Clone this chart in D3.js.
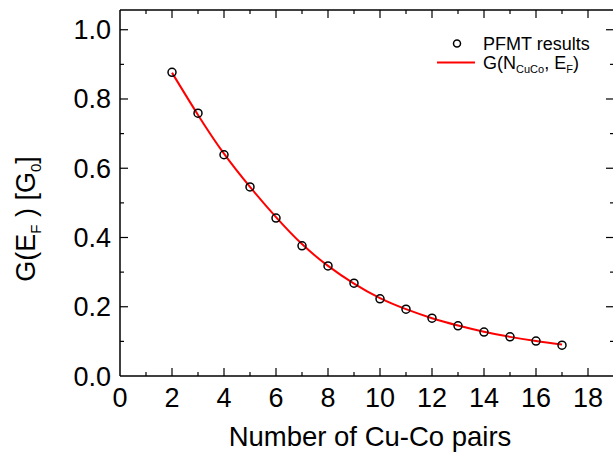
<!DOCTYPE html>
<html>
<head>
<meta charset="utf-8">
<script src="https://cdn.jsdelivr.net/npm/d3@7"></script>
<style>
  html, body { margin: 0; padding: 0; background: #fff; }
  svg { display: block; font-family: Arial, "Liberation Sans", sans-serif; }
</style>
</head>
<body>
<svg id="chart" width="613" height="458"></svg>
<script>
// ---- data ----
const pairs = [2, 3, 4, 5, 6, 7, 8, 9, 10, 11, 12, 13, 14, 15, 16, 17];
const pfmtResults = [0.877, 0.759, 0.639, 0.546, 0.456, 0.376, 0.318, 0.268, 0.223, 0.193, 0.167, 0.145, 0.127, 0.113, 0.101, 0.089];
const fitValues   = [0.876, 0.754, 0.642, 0.546, 0.459, 0.381, 0.318, 0.267, 0.225, 0.193, 0.167, 0.146, 0.128, 0.113, 0.101, 0.091];
const xTicks = [0, 2, 4, 6, 8, 10, 12, 14, 16, 18];
const xMinorTicks = [1, 3, 5, 7, 9, 11, 13, 15, 17];
const yTicks = [0.0, 0.2, 0.4, 0.6, 0.8, 1.0];
const yMinorTicks = [0.1, 0.3, 0.5, 0.7, 0.9];
const legendLabels = ["PFMT results", "G(N", "CuCo", ", E", "F", ")"];

const svg = d3.select("#chart");
const x = d3.scaleLinear().domain([0, 19]).range([120, 614]);
const y = d3.scaleLinear().domain([0, 1.057]).range([376, 10]);

const axisColor = "#000";
const g = svg.append("g");

// frame
const frame = g.append("g").attr("stroke", axisColor).attr("stroke-width", 1.5).attr("fill", "none");
frame.append("line").attr("x1", x(0)).attr("x2", x(19)).attr("y1", y(0)).attr("y2", y(0));
frame.append("line").attr("x1", x(0)).attr("x2", x(19)).attr("y1", y(1.057)).attr("y2", y(1.057));
frame.append("line").attr("x1", x(0)).attr("x2", x(0)).attr("y1", y(0)).attr("y2", y(1.057));
frame.append("line").attr("x1", x(19)).attr("x2", x(19)).attr("y1", y(0)).attr("y2", y(1.057));

// ticks (inside)
const MAJ = 8, MIN = 4;
function tickLines(vals, len, orient) {
  const t = g.append("g").attr("stroke", axisColor).attr("stroke-width", 1.2);
  vals.forEach(v => {
    if (orient === "bottom") t.append("line").attr("x1", x(v)).attr("x2", x(v)).attr("y1", y(0)).attr("y2", y(0) - len);
    if (orient === "top") t.append("line").attr("x1", x(v)).attr("x2", x(v)).attr("y1", y(1.057)).attr("y2", y(1.057) + len);
    if (orient === "left") t.append("line").attr("y1", y(v)).attr("y2", y(v)).attr("x1", x(0)).attr("x2", x(0) + len);
    if (orient === "right") t.append("line").attr("y1", y(v)).attr("y2", y(v)).attr("x1", x(19)).attr("x2", x(19) - len);
  });
}
tickLines(xTicks.filter(v => v > 0), MAJ, "bottom");
tickLines(xMinorTicks, MIN, "bottom");
tickLines(xTicks.filter(v => v > 0), MAJ, "top");
tickLines(xMinorTicks, MIN, "top");
tickLines(yTicks.filter(v => v > 0), MAJ, "left");
tickLines(yMinorTicks, MIN, "left");
tickLines(yTicks.filter(v => v > 0), MAJ, "right");
tickLines(yMinorTicks, MIN, "right");

// tick labels
g.append("g").selectAll("text").data(xTicks).join("text")
  .attr("x", d => x(d)).attr("y", 406.5)
  .attr("text-anchor", "middle").attr("font-size", 27).attr("fill", "#000")
  .text(d => d);
g.append("g").selectAll("text").data(yTicks).join("text")
  .attr("x", 111).attr("y", d => y(d) + 9.5)
  .attr("text-anchor", "end").attr("font-size", 27).attr("fill", "#000")
  .text(d => d.toFixed(1));

// axis titles
svg.append("text").attr("x", 370).attr("y", 446).attr("text-anchor", "middle")
  .attr("font-size", 27.5).attr("fill", "#000").text("Number of Cu-Co pairs");

const yl = svg.append("text").attr("transform", "translate(35,219) rotate(-90)")
  .attr("text-anchor", "middle").attr("font-size", 27).attr("fill", "#000");
yl.append("tspan").text("G(E");
yl.append("tspan").attr("font-size", 15).attr("dy", 6).text("F");
yl.append("tspan").attr("dy", -6).text(" ) [G");
yl.append("tspan").attr("font-size", 15).attr("dy", 6).text("0");
yl.append("tspan").attr("dy", -6).text("]");

// fit line
const line = d3.line().x((d, i) => x(pairs[i])).y(d => y(d)).curve(d3.curveNatural);
svg.append("path").datum(fitValues).attr("d", line)
  .attr("fill", "none").attr("stroke", "#ff0000").attr("stroke-width", 2);

// points
svg.append("g").selectAll("circle").data(pfmtResults).join("circle")
  .attr("cx", (d, i) => x(pairs[i])).attr("cy", d => y(d)).attr("r", 4)
  .attr("fill", "none").attr("stroke", "#000").attr("stroke-width", 1.5);

// legend
const lg = svg.append("g");
lg.append("circle").attr("cx", 457).attr("cy", 43.5).attr("r", 3.5)
  .attr("fill", "none").attr("stroke", "#000").attr("stroke-width", 1.5);
lg.append("text").attr("x", 483).attr("y", 49.5).attr("font-size", 18).attr("fill", "#000").text(legendLabels[0]);
lg.append("line").attr("x1", 437).attr("x2", 475).attr("y1", 62.5).attr("y2", 62.5)
  .attr("stroke", "#ff0000").attr("stroke-width", 2);
const lt = lg.append("text").attr("x", 483).attr("y", 68.5).attr("font-size", 18).attr("fill", "#000");
lt.append("tspan").text(legendLabels[1]);
lt.append("tspan").attr("font-size", 11).attr("dy", 4).text(legendLabels[2]);
lt.append("tspan").attr("dy", -4).text(legendLabels[3]);
lt.append("tspan").attr("font-size", 11).attr("dy", 4).text(legendLabels[4]);
lt.append("tspan").attr("dy", -4).text(legendLabels[5]);
</script>
</body>
</html>
